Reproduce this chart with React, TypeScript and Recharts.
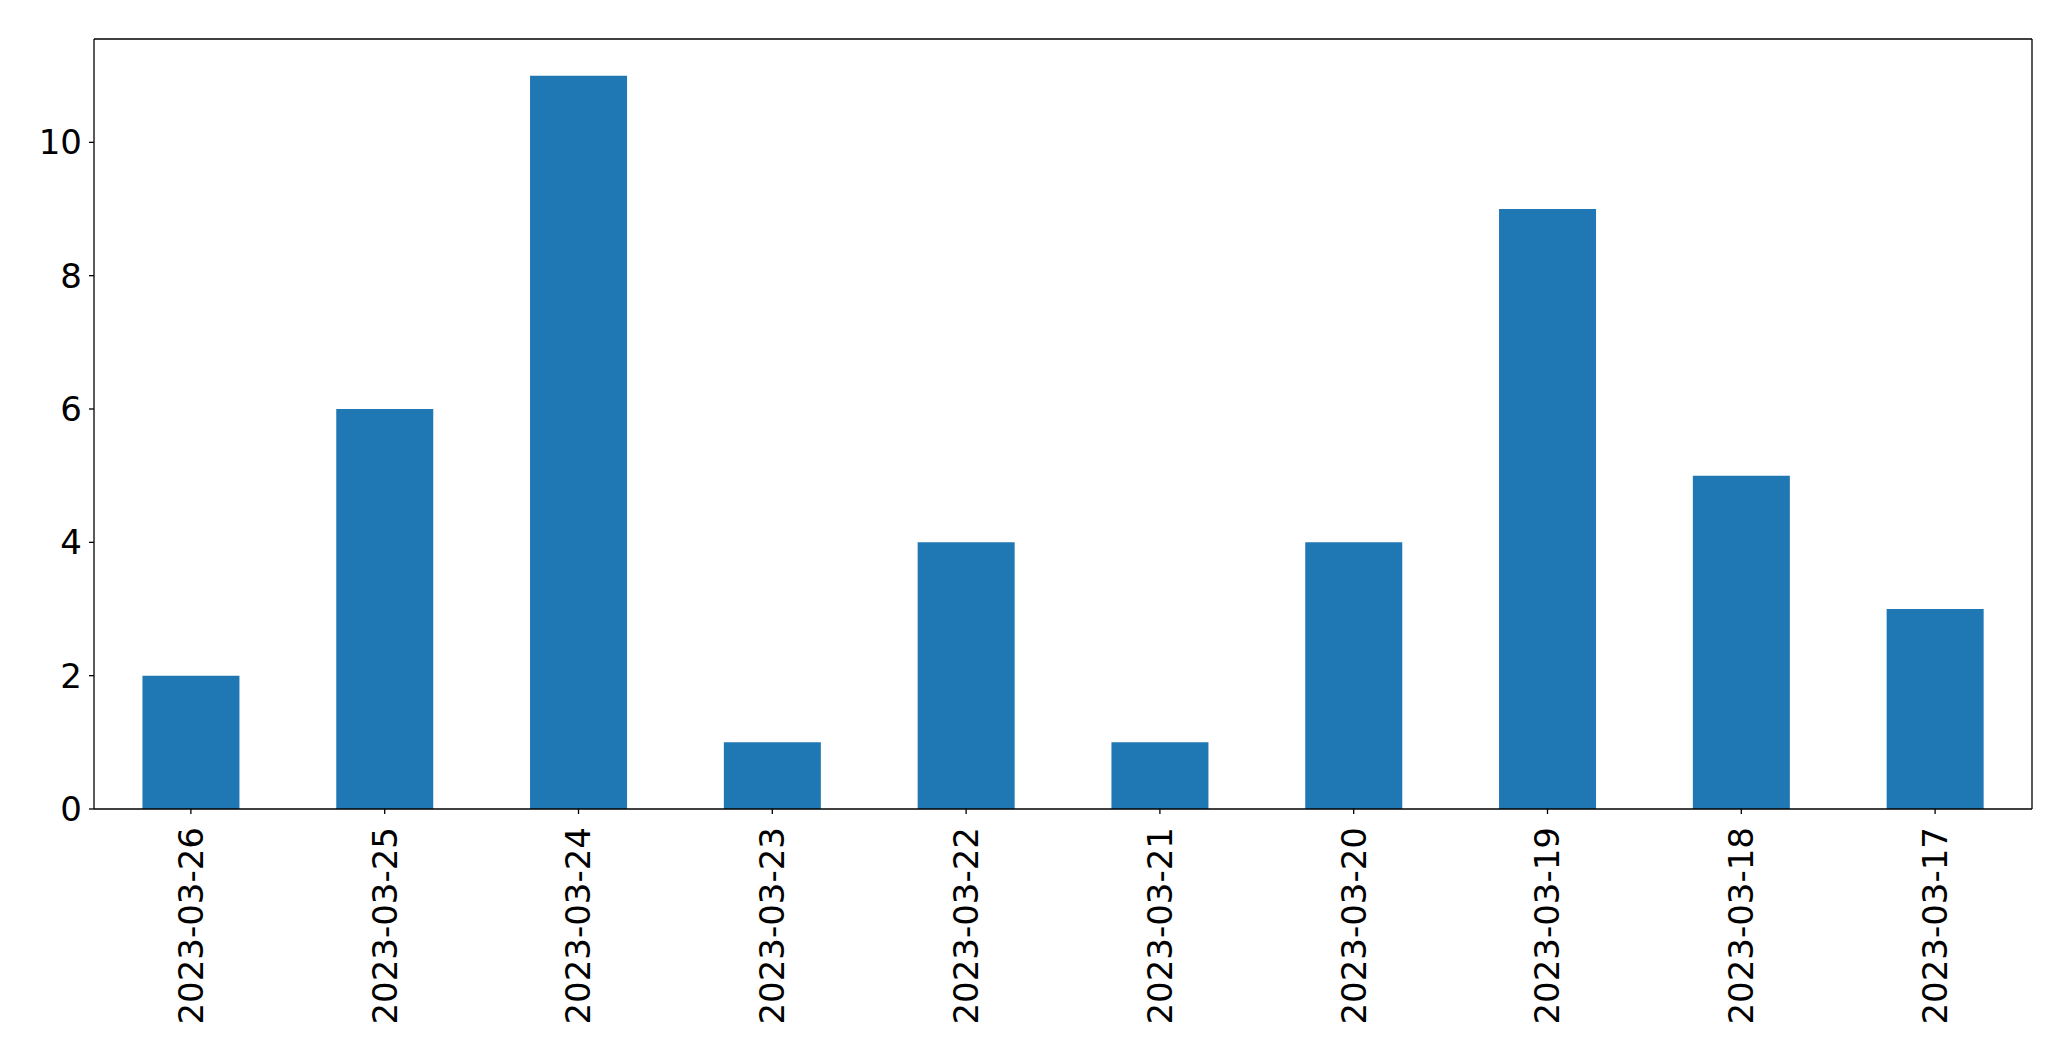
import React from 'react';
import { BarChart, Bar, XAxis, YAxis } from 'recharts';

const dates = [
  '2023-03-26',
  '2023-03-25',
  '2023-03-24',
  '2023-03-23',
  '2023-03-22',
  '2023-03-21',
  '2023-03-20',
  '2023-03-19',
  '2023-03-18',
  '2023-03-17',
];
const counts = [2, 6, 11, 1, 4, 1, 4, 9, 5, 3];
const yTicks = [0, 2, 4, 6, 8, 10];

const FONT = '"DejaVu Sans", sans-serif';

const DateTick = (props: any) => {
  const { x, y, payload } = props;
  return (
    <text
      x={x}
      y={y}
      dy="0.35em"
      transform={`rotate(-90, ${x}, ${y})`}
      textAnchor="end"
      fill="#000"
      fontSize={34}
      fontFamily={FONT}
    >
      {payload.value}
    </text>
  );
};

export default function App() {
  const data = dates.map((d, i) => ({ date: d, count: counts[i] }));

  return (
    <div style={{ position: 'absolute', left: 0, top: 0, background: '#fff' }}>
      <BarChart
        width={2071}
        height={1061}
        data={data}
        margin={{ top: 38, right: 38, bottom: 0, left: 0 }}
        barCategoryGap="25%"
      >
        <XAxis
          dataKey="date"
          xAxisId="main"
          height={252}
          interval={0}
          tickSize={5}
          tickMargin={13}
          tick={<DateTick />}
          axisLine={{ stroke: '#000', strokeWidth: 1.3 }}
          tickLine={{ stroke: '#000', strokeWidth: 1.3 }}
        />
        <XAxis
          dataKey="date"
          xAxisId="top"
          orientation="top"
          height={1}
          tick={false}
          tickLine={false}
          axisLine={{ stroke: '#000', strokeWidth: 1.3 }}
        />
        <YAxis
          yAxisId="main"
          width={94}
          domain={[0, 11.55]}
          ticks={yTicks}
          tickSize={5}
          tickMargin={7}
          tick={{ fill: '#000', fontSize: 34, fontFamily: FONT }}
          axisLine={{ stroke: '#000', strokeWidth: 1.3 }}
          tickLine={{ stroke: '#000', strokeWidth: 1.3 }}
        />
        <YAxis
          yAxisId="right"
          orientation="right"
          width={1}
          domain={[0, 11.55]}
          tick={false}
          tickLine={false}
          axisLine={{ stroke: '#000', strokeWidth: 1.3 }}
        />
        <Bar
          dataKey="count"
          xAxisId="main"
          yAxisId="main"
          fill="#1f77b4"
          isAnimationActive={false}
        />
      </BarChart>
    </div>
  );
}
